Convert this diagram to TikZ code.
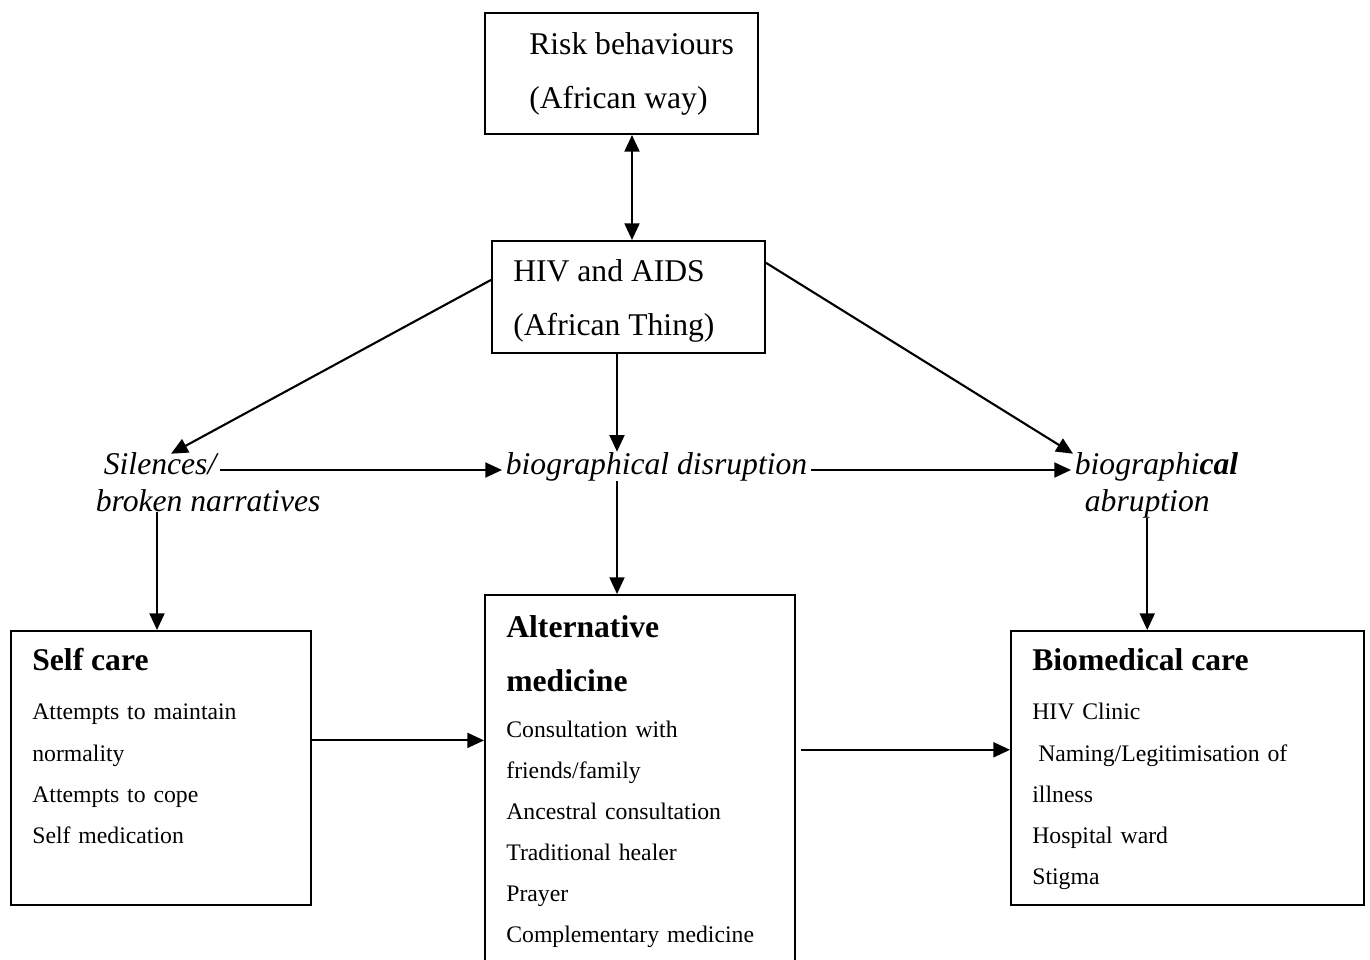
\documentclass[tikz,border=0pt]{standalone}
\usepackage{fontspec}
\setmainfont{Liberation Serif}
\usetikzlibrary{positioning,fit,calc,arrows.meta}
\newcommand\bigtext{\fontsize{18}{31}\selectfont}
\newcommand\smalltext{\fontsize{13.5}{23.4}\selectfont}

\begin{document}
\begin{tikzpicture}[
  x=0.02cm, y=-0.02cm,
  box/.style={draw, line width=1.1pt, inner sep=0pt},
  boxtext/.style={anchor=base west, inner sep=0pt, text width=8cm, align=left, font=\smalltext},
  tag/.style={anchor=base west, inner xsep=2pt, inner ysep=0pt, font=\bigtext\itshape},
  arr/.style={-{Triangle[length=9.5pt, width=8.5pt]}, line width=1.2pt},
  darr/.style={{Triangle[length=9.5pt, width=8.5pt]}-{Triangle[length=9.5pt, width=8.5pt]}, line width=1.2pt},
]
\useasboundingbox (0,0) rectangle (1370,960);

% ====== Top boxes ======
\node[box, fit={(485,13) (758,134)}] (risk) {};
\node[boxtext] (riskt) at (529,54) {{\bigtext Risk behaviours\par (African way)\par}};
\node[box, fit={(492,241) (765,353)}] (hiv) {};
\node[boxtext] (hivt) at (513,281) {{\bigtext HIV and AIDS\par (African Thing)\par}};

% ====== Middle labels ======
\node[tag] (sil1) at (100,474) {Silences/};
\node[tag] (sil2) at (92,511) {broken narratives};
\node[tag] (disr) at (502,474) {biographical disruption};
\node[tag] (abr1) at (1071,474) {biographi\textbf{cal}};
\node[tag] (abr2) at (1081,511) {abruption};

% ====== Bottom boxes ======
\node[box, fit={(11,631) (311,905)}] (selfc) {};
\node[boxtext] (selft) at (32,670) {{\bigtext\bfseries Self care\par}\vspace{5pt}
  Attempts to maintain\par normality\par Attempts to cope\par Self medication\par};
\node[box, fit={(485,595) (795,975)}] (alt) {};
\node[boxtext] (altt) at (506,637) {{\bigtext\bfseries Alternative\par medicine\par}\vspace{2.7pt}
  Consultation with\par friends/family\par Ancestral consultation\par Traditional healer\par
  Prayer\par Complementary medicine\par};
\node[box, fit={(1011,631) (1364,905)}] (bio) {};
\node[boxtext] (biot) at (1032,670) {{\bigtext\bfseries Biomedical care\par}\vspace{5pt}
  HIV Clinic\par \hspace*{0.25em}Naming/Legitimisation of\par illness\par Hospital ward\par Stigma\par};

% ====== Connectors ======
\coordinate (topx) at (632,0);
\coordinate (midx) at (617,0);
\coordinate (leftx) at (157,0);
\draw[darr] (risk.south -| topx) -- (hiv.north -| topx);
\draw[arr] ($(hiv.north west)!0.35!(hiv.south west)$) -- ($(sil1.north)+(11,2)$);
\draw[arr] ($(hiv.north east)!0.2!(hiv.south east)$) -- ($(abr1.north west)+(2,2)$);
\draw[arr] (hiv.south -| midx) -- (disr.north -| midx);
\draw[arr] ($(sil1.base east)+(0,-4)$) -- ($(disr.base west)+(0,-4)$);
\draw[arr] ($(disr.base east)+(0,-4)$) -- ($(abr1.base west)+(0,-4)$);
\draw[arr] (sil2.south -| leftx) -- (selfc.north -| leftx);
\draw[arr] (disr.south -| midx) -- (alt.north -| midx);
\draw[arr] (abr2.south) -- (abr2.south |- bio.north);
\path ($(selfc.north east)!0.4!(selfc.south east)$) coordinate (s1);
\draw[arr] (s1) -- (s1 -| alt.west);
\path ($(bio.north west)!0.434!(bio.south west)$) coordinate (b1);
\draw[arr, shorten <=3pt] (b1 -| alt.east) -- (b1);

\end{tikzpicture}
\end{document}
